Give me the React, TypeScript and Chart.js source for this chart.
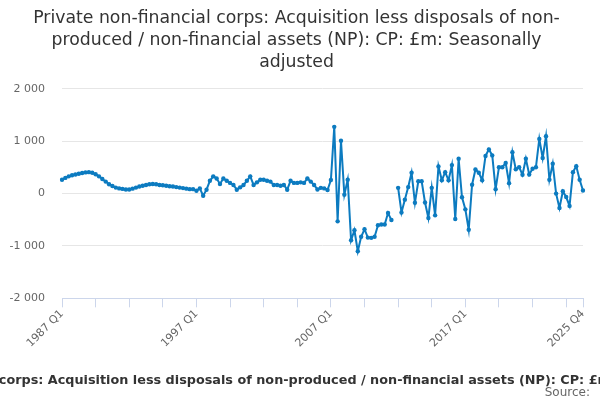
import React, { useEffect, useRef } from "react";
import { Chart, registerables } from "chart.js";

Chart.register(...registerables);

const FONT = "'DejaVu Sans', sans-serif";

const titleLines = [
  "Private non-financial corps: Acquisition less disposals of non-",
  "produced / non-financial assets (NP): CP: £m: Seasonally",
  "adjusted",
];
const axisTitle =
  "Private non-financial corps: Acquisition less disposals of non-produced / non-financial assets (NP): CP: £m: Seasonally adjusted";
const sourceText = "Source:";

const firstYear = 1987;
const lastYear = 2025;
const quarters: string[] = [];
for (let y = firstYear; y <= lastYear; y++) {
  for (let q = 1; q <= 4; q++) quarters.push(`${y} Q${q}`);
}

const tickLabels = ["1987 Q1", "1997 Q1", "2007 Q1", "2017 Q1", "2025 Q4"];
const yTickValues = [-2000, -1000, 0, 1000, 2000];

const values1987to1996 = [
  265, 300, 330, 350, 365, 380, 395, 405, 410, 400, 370, 330, 280, 230, 180, 145,
  115, 100, 90, 80, 80, 95, 115, 135, 150, 165, 180, 185, 180, 165, 160, 150, 140,
  135, 125, 115, 105, 95, 85, 85,
];
const values1997to2006 = [
  55, 100, -40, 75, 245, 330, 290, 185, 290, 245, 205, 165, 75, 120, 165, 245, 330,
  165, 215, 265, 265, 245, 230, 165, 165, 150, 165, 75, 245, 205, 205, 215, 205,
  290, 230, 165, 80, 110, 100, 70,
];
const values2007to2016: (number | null)[] = [
  260, 1275, -530, 1010, -20, 265, -890, -700, -1100, -825, -680, -840, -845, -825,
  -605, -590, -590, -370, -505, null, 110, -360, -115, 125, 400, -175, 235, 235,
  -170, -465, 110, -415, 520, 255, 410, 255, 545, -485, 665, -70,
];
const values2017to2025 = [
  -300, -690, 170, 460, 400, 255, 720, 845, 730, 85, 505, 505, 585, 200, 790, 465,
  505, 360, 665, 365, 475, 505, 1045, 680, 1095, 265, 570, 0, -275, 45, -65, -235,
  410, 525, 265, 60,
];

const seriesValues: (number | null)[] = [
  ...values1987to1996,
  ...values1997to2006,
  ...values2007to2016,
  ...values2017to2025,
];

const LINE_COLOR = "#0c7bc0";

function formatThousands(v: number): string {
  const s = Math.abs(v).toString().replace(/\B(?=(\d{3})+(?!\d))/g, " ");
  return (v < 0 ? "-" : "") + s;
}

export default function App() {
  const ref = useRef<HTMLCanvasElement | null>(null);

  useEffect(() => {
    if (!ref.current) return;
    const lastIndex = quarters.length - 1;
    const textPlugin = {
      id: "extraTexts",
      afterDraw(chart: any) {
        const ctx = chart.ctx;
        ctx.save();
        ctx.font = `bold 12.8px ${FONT}`;
        ctx.fillStyle = "#333333";
        ctx.textAlign = "center";
        ctx.textBaseline = "middle";
        ctx.fillText(axisTitle, 305, 381);
        ctx.font = `12px ${FONT}`;
        ctx.fillStyle = "#666666";
        ctx.textAlign = "right";
        ctx.fillText(sourceText, 590, 393);
        ctx.restore();
      },
    };
    const chart = new Chart(ref.current, {
      type: "line",
      data: {
        labels: quarters,
        datasets: [
          {
            data: seriesValues,
            borderColor: LINE_COLOR,
            backgroundColor: LINE_COLOR,
            borderWidth: 2,
            pointRadius: 2.2,
            pointHoverRadius: 2.2,
            pointBorderWidth: 0,
            tension: 0,
            spanGaps: false,
          },
        ],
      },
      options: {
        responsive: false,
        animation: false,
        events: [],
        layout: { padding: { left: 10, right: 17, top: 0, bottom: 50 } },
        plugins: {
          legend: { display: false },
          tooltip: { enabled: false },
          title: {
            display: true,
            text: titleLines,
            color: "#333333",
            font: { family: FONT, size: 17.3, weight: "normal", lineHeight: 1.27 },
            padding: { top: 8, bottom: 15 },
          },
        },
        scales: {
          x: {
            type: "category",
            offset: false,
            afterBuildTicks(scale: any) {
              scale.ticks = scale.ticks.filter(
                (t: any) => t.value % 10 === 0 || t.value === lastIndex
              );
            },
            afterFit(scale: any) {
              scale.paddingLeft = 0;
              scale.paddingRight = 0;
            },
            grid: {
              display: true,
              drawOnChartArea: false,
              drawTicks: true,
              tickLength: 9,
              color: "#ccd6eb",
            },
            border: { display: true, color: "#ccd6eb" },
            ticks: {
              autoSkip: false,
              minRotation: 45,
              maxRotation: 45,
              padding: 0,
              color: "#666666",
              font: { family: FONT, size: 11 },
              callback(this: any, value: any) {
                const lbl = quarters[value as number];
                return tickLabels.includes(lbl) ? lbl : "";
              },
            },
          },
          y: {
            min: -2000,
            max: 2000,
            afterBuildTicks(scale: any) {
              scale.ticks = yTickValues.map((v) => ({ value: v }));
            },
            afterFit(scale: any) {
              scale.width = 52;
            },
            grid: { color: "#e6e6e6", drawTicks: false },
            border: { display: false },
            ticks: {
              padding: 17,
              color: "#666666",
              font: { family: FONT, size: 11 },
              callback: (v: any) => formatThousands(Number(v)),
            },
          },
        },
      },
      plugins: [textPlugin],
    });
    return () => chart.destroy();
  }, []);

  return (
    <div style={{ position: "fixed", left: 0, top: 0, width: 600, height: 400, background: "#fff" }}>
      <canvas ref={ref} width={600} height={400} style={{ display: "block" }} />
    </div>
  );
}
